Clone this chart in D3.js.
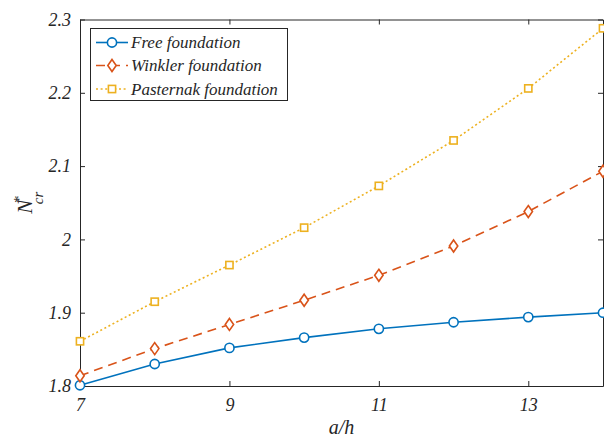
<!DOCTYPE html>
<html>
<head>
<meta charset="utf-8">
<script src="https://cdn.jsdelivr.net/npm/d3@7"></script>
<style>
  html, body { margin: 0; padding: 0; background: #fff; }
  svg { display: block; }
  svg text { font-family: "Liberation Serif", "Times New Roman", serif; font-style: italic; fill: #262626; }
</style>
</head>
<body>
<svg id="chart" width="604" height="439"></svg>
<script>
// Aspect ratio a/h
const ratios = [7, 8, 9, 10, 11, 12, 13, 14];

// Dimensionless critical buckling load N*_cr for each foundation type
const freeValues      = [1.801, 1.830, 1.852, 1.866, 1.878, 1.887, 1.894, 1.900];
const winklerValues   = [1.814, 1.851, 1.884, 1.917, 1.951, 1.991, 2.038, 2.093];
const pasternakValues = [1.861, 1.915, 1.965, 2.016, 2.073, 2.135, 2.206, 2.288];

const seriesNames = ["Free foundation", "Winkler foundation", "Pasternak foundation"];

const xTicks = [7, 9, 11, 13];
const yTicks = [1.8, 1.9, 2.0, 2.1, 2.2, 2.3];
const yTickLabels = ["1.8", "1.9", "2", "2.1", "2.2", "2.3"];

const plot = { left: 80, right: 603, top: 19.5, bottom: 386 };

const svg = d3.select("#chart");

const x = d3.scaleLinear().domain([7, 14]).range([plot.left, plot.right]);
const y = d3.scaleLinear().domain([1.8, 2.3]).range([plot.bottom, plot.top]);

const axisColor = "#262626";
const tickLen = 5;

// Boxed axes with inward ticks
const gx = svg.append("g").attr("transform", `translate(0,${plot.bottom})`)
  .call(d3.axisBottom(x).tickValues(xTicks).tickSizeInner(-tickLen).tickSizeOuter(0).tickPadding(12).tickFormat(d3.format("d")));
const gxTop = svg.append("g").attr("transform", `translate(0,${plot.top})`)
  .call(d3.axisTop(x).tickValues(xTicks).tickSizeInner(-tickLen).tickSizeOuter(0).tickFormat(""));
const gy = svg.append("g").attr("transform", `translate(${plot.left},0)`)
  .call(d3.axisLeft(y).tickValues(yTicks).tickSizeInner(-tickLen).tickSizeOuter(0).tickPadding(9)
    .tickFormat((d, i) => yTickLabels[i]));
const gyRight = svg.append("g").attr("transform", `translate(${plot.right},0)`)
  .call(d3.axisRight(y).tickValues(yTicks).tickSizeInner(-tickLen).tickSizeOuter(0).tickFormat(""));

[gx, gxTop, gy, gyRight].forEach(g => {
  g.attr("font-family", null).attr("font-size", null);
  g.select(".domain").attr("stroke", axisColor).attr("stroke-width", 1);
  g.selectAll(".tick line").attr("stroke", axisColor).attr("stroke-width", 1);
  g.selectAll(".tick text").attr("font-size", 18).attr("fill", axisColor);
});
gx.selectAll(".tick text").attr("dy", "0.71em");
gy.selectAll(".tick text").attr("dy", "0.32em");

// Axis titles
svg.append("text")
  .attr("x", (plot.left + plot.right) / 2)
  .attr("y", 434)
  .attr("text-anchor", "middle")
  .attr("font-size", 20)
  .text("a/h");

const yl = svg.append("text")
  .attr("transform", `translate(32,${(plot.top + plot.bottom) / 2}) rotate(-90)`)
  .attr("text-anchor", "middle")
  .attr("font-size", 21);
yl.append("tspan").text("N");
yl.append("tspan").attr("font-size", 15).attr("dy", -8).attr("dx", -4).text("*");
yl.append("tspan").attr("font-size", 15).attr("dy", 19).attr("dx", -8).text("cr");

// Series: lines and markers
const colors = ["#0072BD", "#D95319", "#EDB120"];
const dashes = [null, "9,6", "2,2.6"];
const valueSets = [freeValues, winklerValues, pasternakValues];

const line = d3.line().x(d => x(d[0])).y(d => y(d[1]));

function drawMarker(g, kind, cx, cy, color) {
  if (kind === 0) {
    g.append("circle").attr("cx", cx).attr("cy", cy).attr("r", 4.6)
      .attr("fill", "#fff").attr("stroke", color).attr("stroke-width", 1.6);
  } else if (kind === 1) {
    g.append("path")
      .attr("d", `M${cx},${cy - 6}L${cx + 4.2},${cy}L${cx},${cy + 6}L${cx - 4.2},${cy}Z`)
      .attr("fill", "#fff").attr("stroke", color).attr("stroke-width", 1.6);
  } else {
    g.append("rect").attr("x", cx - 3.6).attr("y", cy - 3.6).attr("width", 7.2).attr("height", 7.2)
      .attr("fill", "#fff").attr("stroke", color).attr("stroke-width", 1.6);
  }
}

const seriesG = svg.append("g");
valueSets.forEach((vals, k) => {
  const pts = ratios.map((r, i) => [r, vals[i]]);
  seriesG.append("path")
    .attr("d", line(pts))
    .attr("fill", "none")
    .attr("stroke", colors[k])
    .attr("stroke-width", 1.6)
    .attr("stroke-dasharray", dashes[k]);
  const mg = seriesG.append("g");
  pts.forEach(p => drawMarker(mg, k, x(p[0]), y(p[1]), colors[k]));
});

// Legend
const leg = svg.append("g");
leg.append("rect").attr("x", 90.5).attr("y", 28.5).attr("width", 197).attr("height", 72)
  .attr("fill", "#fff").attr("stroke", axisColor).attr("stroke-width", 1);
const rowY = [42.5, 65.5, 89];
seriesNames.forEach((name, k) => {
  const ry = rowY[k];
  leg.append("line").attr("x1", 96).attr("x2", 128).attr("y1", ry).attr("y2", ry)
    .attr("stroke", colors[k]).attr("stroke-width", 1.6).attr("stroke-dasharray", dashes[k]);
  drawMarker(leg, k, 112, ry, colors[k]);
  leg.append("text").attr("x", 131).attr("y", ry).attr("dy", "0.33em")
    .attr("font-size", 17).text(name);
});
</script>
</body>
</html>
